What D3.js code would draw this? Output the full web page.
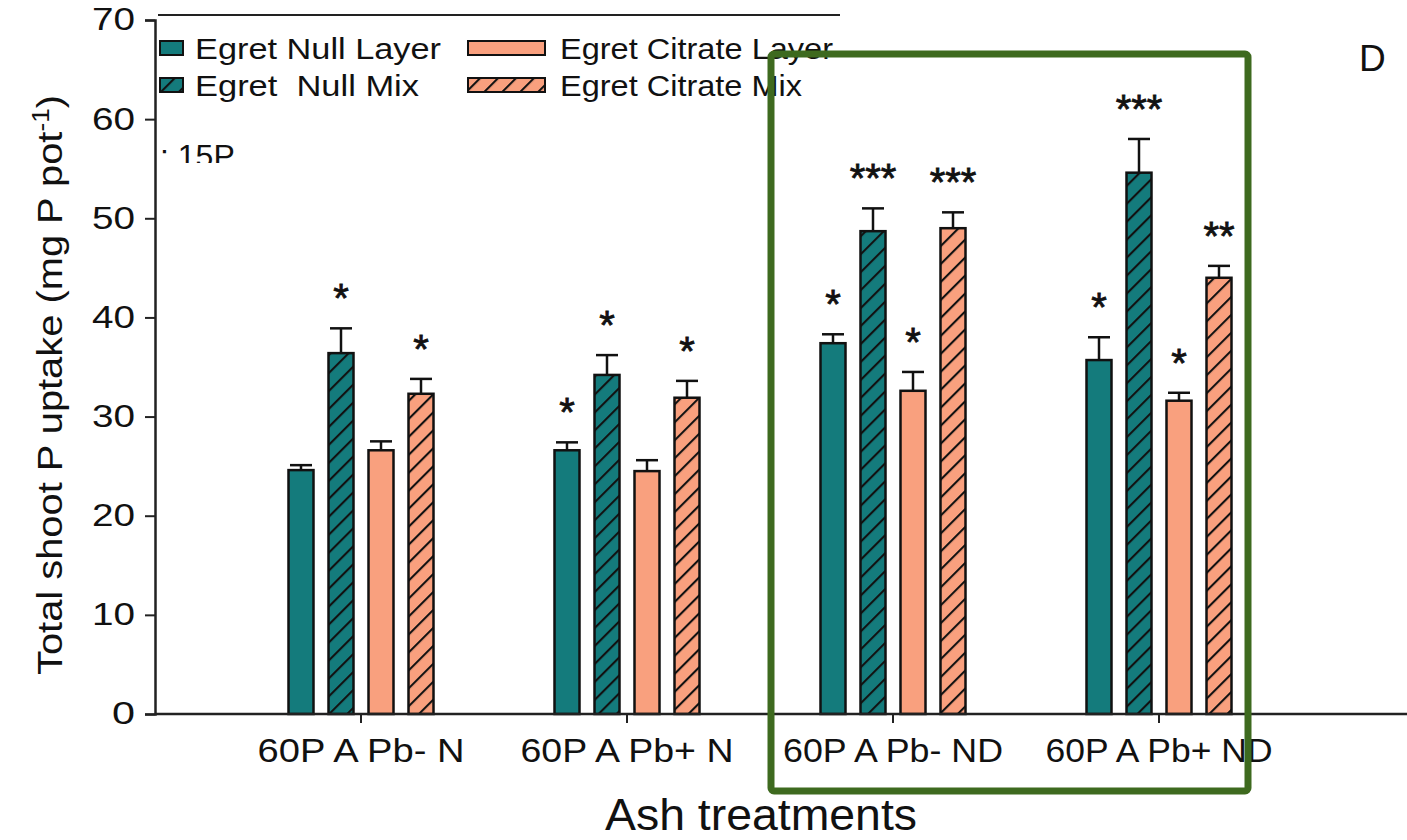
<!DOCTYPE html>
<html>
<head>
<meta charset="utf-8">
<script src="https://cdn.jsdelivr.net/npm/d3@7"></script>
<style>
  body { margin: 0; background: #fff; }
  text { font-family: "Liberation Sans", Arial, sans-serif; fill: #111; }
</style>
</head>
<body>
<div id="chart"></div>
<script>
// data
const categories = ["60P A Pb- N", "60P A Pb+ N", "60P A Pb- ND", "60P A Pb+ ND"];
const seriesNames = ["Egret Null Layer", "Egret  Null Mix", "Egret Citrate Layer", "Egret Citrate Mix"];
const nullLayer = [24.6, 26.6, 37.4, 35.7];
const nullLayerErr = [0.5, 0.8, 0.9, 2.3];
const nullMix = [36.4, 34.2, 48.7, 54.6];
const nullMixErr = [2.5, 2.0, 2.3, 3.4];
const citrateLayer = [26.6, 24.5, 32.6, 31.6];
const citrateLayerErr = [0.9, 1.1, 1.9, 0.8];
const citrateMix = [32.3, 31.9, 49.0, 44.0];
const citrateMixErr = [1.5, 1.7, 1.6, 1.2];
const nullLayerSig = ["", "*", "*", "*"];
const nullMixSig = ["*", "*", "***", "***"];
const citrateLayerSig = ["", "", "*", "*"];
const citrateMixSig = ["*", "*", "***", "**"];
const yTicks = [0, 10, 20, 30, 40, 50, 60, 70];

const W = 1407, H = 840;
const teal = "#147b7c", salmon = "#f9a07e", green = "#3e6a1f";

const svg = d3.select("#chart").append("svg")
    .attr("width", W).attr("height", H);

// hatch patterns for the "Mix" series
const defs = svg.append("defs");
function hatch(id, bg) {
  const p = defs.append("pattern")
      .attr("id", id)
      .attr("patternUnits", "userSpaceOnUse")
      .attr("width", 12.7).attr("height", 12.7)
      .attr("patternTransform", "rotate(45)");
  p.append("rect").attr("width", 12.7).attr("height", 12.7).attr("fill", bg);
  p.append("line").attr("x1", 1).attr("x2", 1).attr("y1", 0).attr("y2", 12.7)
      .attr("stroke", "#111").attr("stroke-width", 2.2);
}
hatch("hTeal", teal);
hatch("hSalmon", salmon);

const fills = [teal, "url(#hTeal)", salmon, "url(#hSalmon)"];

const series = [
  {name: seriesNames[0], vals: nullLayer, err: nullLayerErr, sig: nullLayerSig},
  {name: seriesNames[1], vals: nullMix, err: nullMixErr, sig: nullMixSig},
  {name: seriesNames[2], vals: citrateLayer, err: citrateLayerErr, sig: citrateLayerSig},
  {name: seriesNames[3], vals: citrateMix, err: citrateMixErr, sig: citrateMixSig}
];

const y = d3.scaleLinear().domain([0, 70]).range([714, 20]);
const x = d3.scaleBand().domain(categories).range([228, 1292]);
const xs = d3.scaleBand().domain(d3.range(4))
    .range([x.bandwidth() / 2 - 80, x.bandwidth() / 2 + 80])
    .paddingInner(0.375).paddingOuter(0.1875);

// bars
const groups = svg.append("g").selectAll("g")
  .data(series).join("g");

groups.each(function (s, si) {
  const g = d3.select(this);
  categories.forEach((c, ci) => {
    const x0 = x(c) + xs(si), bw = xs.bandwidth();
    const cx = x0 + bw / 2;
    const top = y(s.vals[ci]), cap = y(s.vals[ci] + s.err[ci]);
    g.append("line")
      .attr("x1", cx).attr("x2", cx).attr("y1", top).attr("y2", cap)
      .attr("stroke", "#111").attr("stroke-width", 2.5);
    g.append("line")
      .attr("x1", cx - 11).attr("x2", cx + 11).attr("y1", cap).attr("y2", cap)
      .attr("stroke", "#111").attr("stroke-width", 2.5);
    g.append("rect")
      .attr("x", x0).attr("y", top)
      .attr("width", bw).attr("height", y(0) - top)
      .attr("fill", fills[si]).attr("stroke", "#111").attr("stroke-width", 2.5);
    if (s.sig[ci]) {
      g.append("text")
        .attr("x", cx).attr("y", cap - 38 + 22)
        .attr("text-anchor", "middle")
        .style("font-size", "40px")
        .attr("stroke", "#111").attr("stroke-width", 0.8)
        .text(s.sig[ci]);
    }
  });
});

// y axis
const yAxis = svg.append("g")
    .attr("transform", "translate(155,0)")
    .call(d3.axisLeft(y).tickValues(yTicks).tickSize(10).tickPadding(10));
yAxis.select(".domain").attr("stroke", "#222").attr("stroke-width", 2.5);
yAxis.selectAll(".tick line").attr("stroke", "#222").attr("stroke-width", 2);
yAxis.selectAll(".tick text")
    .style("font-size", "31px").attr("fill", "#222")
    .attr("textLength", d => d === 0 ? 23 : 43)
    .attr("lengthAdjust", "spacingAndGlyphs");

// x axis
svg.append("line")
    .attr("x1", 155).attr("x2", W).attr("y1", y(0)).attr("y2", y(0))
    .attr("stroke", "#222").attr("stroke-width", 2.5);
const xAxis = svg.append("g")
    .attr("transform", `translate(0,${y(0)})`)
    .call(d3.axisBottom(x).tickSize(9).tickPadding(16));
xAxis.select(".domain").remove();
xAxis.selectAll(".tick line").attr("stroke", "#222").attr("stroke-width", 2);
xAxis.selectAll(".tick text")
    .style("font-size", "33px").attr("fill", "#222")
    .attr("textLength", (d, i) => [207, 213, 220, 227][i])
    .attr("lengthAdjust", "spacingAndGlyphs");

// axis titles
svg.append("text")
    .attr("x", 761).attr("y", 830)
    .attr("text-anchor", "middle")
    .style("font-size", "45px")
    .attr("textLength", 312).attr("lengthAdjust", "spacingAndGlyphs")
    .text("Ash treatments");

const yl = svg.append("text")
    .attr("transform", "translate(62,385) rotate(-90)")
    .attr("text-anchor", "middle")
    .style("font-size", "35px")
    .attr("textLength", 580).attr("lengthAdjust", "spacingAndGlyphs");
yl.append("tspan").text("Total shoot P uptake (mg P pot");
yl.append("tspan").attr("dy", -13).style("font-size", "23px").text("-1");
yl.append("tspan").attr("dy", 13).text(")");

// legend
svg.append("line")
    .attr("x1", 158).attr("x2", 840).attr("y1", 15).attr("y2", 15)
    .attr("stroke", "#222").attr("stroke-width", 2);
const legPos = [[160, 48, 23], [160, 85, 23], [468, 48, 77], [468, 85, 77]];
const textLen = [246, 224, 273, 242];
series.forEach((s, i) => {
  const [lx, ly, lw] = legPos[i];
  svg.append("rect")
    .attr("x", lx).attr("y", ly - 7).attr("width", lw).attr("height", 14)
    .attr("fill", fills[i]).attr("stroke", "#111").attr("stroke-width", 2);
  svg.append("text")
    .attr("x", i < 2 ? 195 : 560).attr("y", ly + 11)
    .style("font-size", "30px").attr("xml:space", "preserve")
    .attr("textLength", textLen[i]).attr("lengthAdjust", "spacingAndGlyphs")
    .text(s.name);
});

// clipped stray label and panel letter
svg.append("clipPath").attr("id", "clip15")
  .append("rect").attr("x", 157).attr("y", 130).attr("width", 200).attr("height", 33);
svg.append("text")
    .attr("x", 160).attr("y", 167)
    .attr("clip-path", "url(#clip15)")
    .style("font-size", "32px").attr("fill", "#222")
    .text(": 15P");

svg.append("text")
    .attr("x", 1359).attr("y", 71)
    .style("font-size", "37px")
    .text("D");

// green highlight box
svg.append("rect")
    .attr("x", 771).attr("y", 54).attr("width", 477).attr("height", 737)
    .attr("rx", 3)
    .attr("fill", "none").attr("stroke", green).attr("stroke-width", 7);
</script>
</body>
</html>
